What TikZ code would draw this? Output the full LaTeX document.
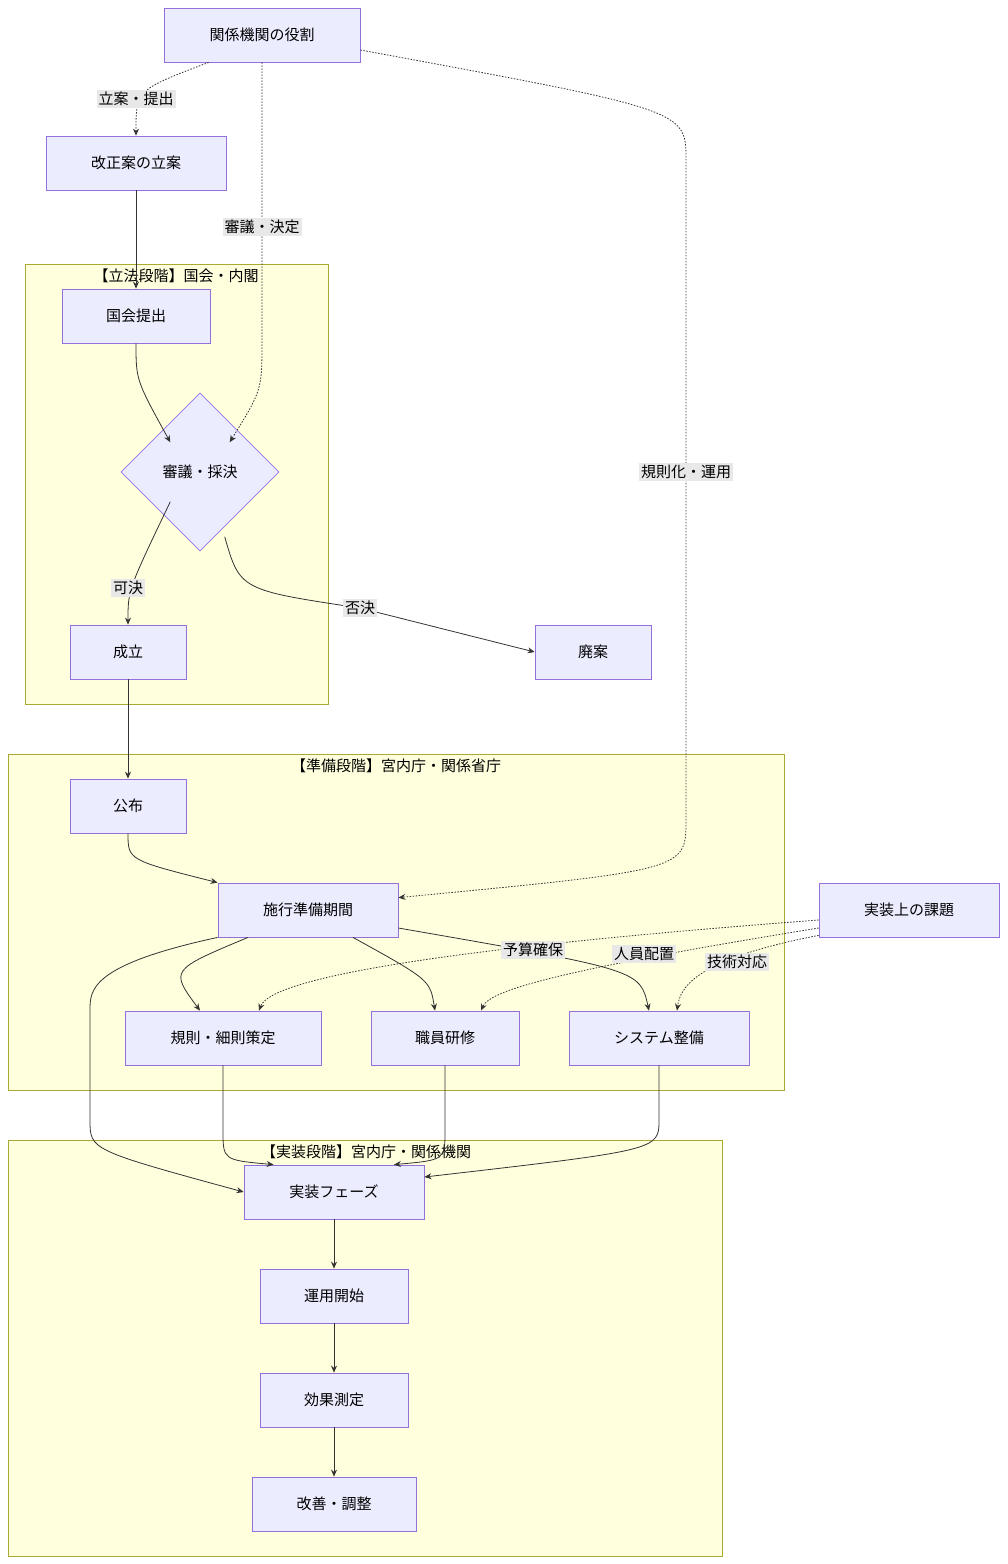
\documentclass[tikz,border=0pt]{standalone}
\usepackage{fontspec}
\setmainfont{Noto Sans CJK JP}
\usetikzlibrary{shapes.geometric,arrows.meta,calc}
\definecolor{nodefill}{HTML}{ECECFF}
\definecolor{nodeline}{HTML}{9370DB}
\definecolor{clusterfill}{HTML}{FFFFDE}
\definecolor{clusterline}{HTML}{AAAA33}
\definecolor{labelfill}{HTML}{E8E8E8}
\tikzset{
  box/.style={rectangle,draw=nodeline,fill=nodefill,line width=0.8pt,minimum height=54pt,font=\fontsize{15}{18}\selectfont},
  decide/.style={diamond,draw=nodeline,fill=nodefill,line width=0.8pt,minimum width=158pt,minimum height=158pt,inner sep=0pt,font=\fontsize{15}{18}\selectfont},
  cluster/.style={draw=clusterline,fill=clusterfill,line width=0.8pt},
  ctitle/.style={font=\fontsize{15}{18}\selectfont},
  flow/.style={-{Stealth[length=7pt,width=6pt]},line width=0.8pt,draw=black!80},
  hint/.style={flow,dash pattern=on 1.5pt off 1.5pt},
  tag/.style={fill=labelfill,inner sep=2pt,font=\fontsize{15}{18}\selectfont}
}
\begin{document}
\begin{tikzpicture}[x=1pt,y=-1pt]
\useasboundingbox (0,0) rectangle (1008,1564);

%Clusters
\draw[cluster] (25,264) rectangle (328,704);
\node[ctitle] (legtitle) at (176,276) {【立法段階】国会・内閣};
\draw[cluster] (8,754) rectangle (784,1090);
\node[ctitle] (preptitle) at (396,766) {【準備段階】宮内庁・関係省庁};
\draw[cluster] (8,1140) rectangle (722,1556);
\node[ctitle] (impltitle) at (366,1152) {【実装段階】宮内庁・関係機関};

%Nodes
\node[box,minimum width=196pt] (role) at (262,35) {関係機関の役割};
\node[box,minimum width=180pt] (draft) at (136,163) {改正案の立案};
\node[box,minimum width=148pt] (submit) at (136,316) {国会提出};
\node[decide] (vote) at (200,472) {審議・採決};
\node[box,minimum width=116pt] (pass) at (128,652) {成立};
\node[box,minimum width=116pt] (reject) at (593,652) {廃案};
\node[box,minimum width=116pt] (publish) at (128,806) {公布};
\node[box,minimum width=180pt] (prep) at (308,910) {施行準備期間};
\node[box,minimum width=180pt] (issues) at (909,910) {実装上の課題};
\node[box,minimum width=196pt] (rules) at (223,1038) {規則・細則策定};
\node[box,minimum width=148pt] (training) at (445,1038) {職員研修};
\node[box,minimum width=180pt] (system) at (659,1038) {システム整備};
\node[box,minimum width=180pt] (impl) at (334,1192) {実装フェーズ};
\node[box,minimum width=148pt] (start) at (334,1296) {運用開始};
\node[box,minimum width=148pt] (measure) at (334,1400) {効果測定};
\node[box,minimum width=164pt] (improve) at (334,1504) {改善・調整};

%Edges
\draw[hint] ($(role.south west)+(45,0)$) .. controls (136,90) .. (draft.north);
\node[tag] (t1) at (136,99) {立案・提出};
\draw[hint] (role.south) -- (262,340) .. controls (262,390) .. ($(vote.north east)+(-10,10)$);
\node[tag] (t2) at (262,227) {審議・決定};
\draw[hint] ($(role.east)+(0,15)$) .. controls (686,110) .. (686,160) -- (686,820) .. controls (686,870) .. ($(prep.north east)+(0,15)$);
\node[tag] (t3) at (686,472) {規則化・運用};

\draw[flow] (draft) -- (submit);
\draw[flow] (submit.south) .. controls (136,380) .. ($(vote.north west)+(10,10)$);
\draw[flow] ($(vote.south west)+(10,-10)$) .. controls (128,590) .. (pass.north);
\node[tag] (t4) at (128,588) {可決};
\draw[flow] ($(vote.south east)+(-15,25)$) .. controls (240,590) .. (360,608) -- (reject.west);
\node[tag] (t5) at (360,608) {否決};
\draw[flow] (pass) -- (publish);
\draw[flow] (publish.south) .. controls (128,860) .. (prep.north west);

\draw[flow] (prep.south west) .. controls (90,965) and (90,990) .. (90,1010) -- (90,1120) .. controls (90,1150) .. (impl.west);
\draw[flow] ($(prep.south)+(-60,0)$) .. controls (170,970) .. ($(rules.north)+(-23,0)$);
\draw[flow] ($(prep.south)+(45,0)$) .. controls (430,980) .. ($(training.north)+(-10,0)$);
\draw[flow] ($(prep.east)+(0,18)$) .. controls (640,970) .. ($(system.north)+(-10,0)$);

\draw[hint] ($(issues.west)+(0,10)$) .. controls (420,950) and (270,980) .. ($(rules.north)+(36,0)$);
\node[tag] (t6) at (533,950) {予算確保};
\draw[hint] ($(issues.west)+(0,18)$) .. controls (560,970) and (490,990) .. ($(training.north)+(36,0)$);
\node[tag] (t7) at (644,954) {人員配置};
\draw[hint] ($(issues.south west)+(0,-2)$) .. controls (690,960) and (680,990) .. ($(system.north)+(18,0)$);
\node[tag] (t8) at (737,962) {技術対応};

\draw[flow] (rules.south) -- (223,1130) .. controls (223,1160) .. ($(impl.north west)+(30,0)$);
\draw[flow] (training.south) -- (445,1130) .. controls (445,1160) .. ($(impl.north)+(60,0)$);
\draw[flow] (system.south) -- (659,1120) .. controls (659,1150) .. ($(impl.east)+(0,-15)$);

\draw[flow] (impl) -- (start);
\draw[flow] (start) -- (measure);
\draw[flow] (measure) -- (improve);
\end{tikzpicture}
\end{document}
